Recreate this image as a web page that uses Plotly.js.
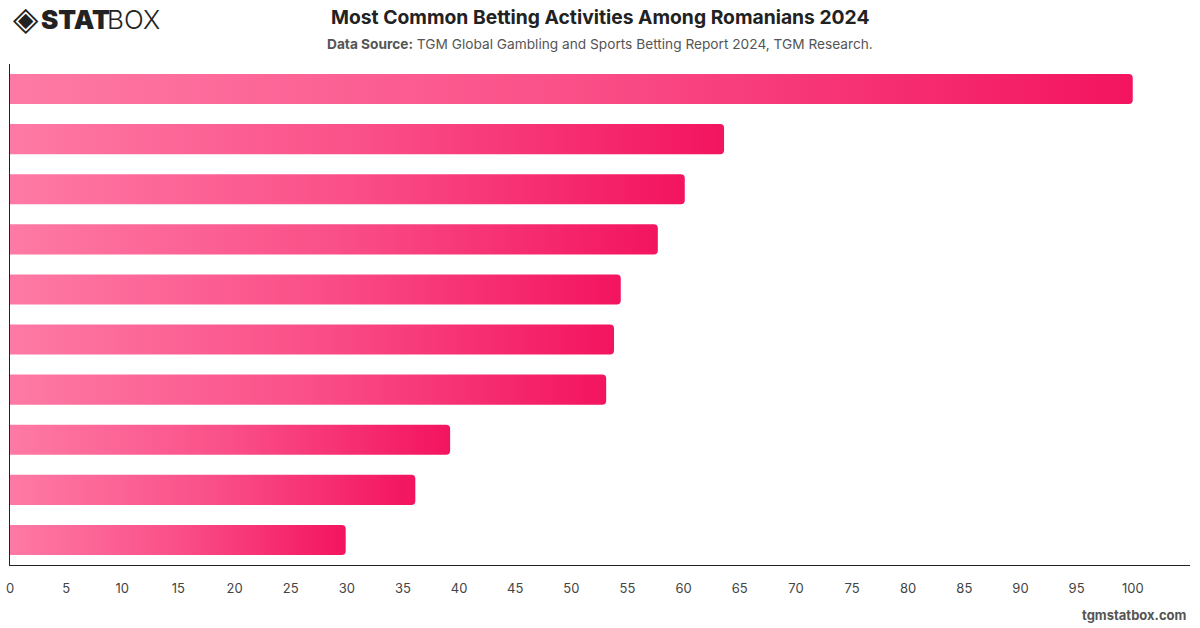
<!DOCTYPE html>
<html>
<head>
<meta charset="utf-8">
<script src="https://cdn.plot.ly/plotly-3.0.1.min.js"></script>
<style>
html,body{margin:0;padding:0;background:#fff;}
#chart{width:1200px;height:628px;}
</style>
</head>
<body>
<div id="chart"></div>
<script>
// Data (category labels are not shown in the chart)
const categories = ["Activity 1","Activity 2","Activity 3","Activity 4","Activity 5","Activity 6","Activity 7","Activity 8","Activity 9","Activity 10"];
const values = [100, 63.6, 60.1, 57.7, 54.4, 53.8, 53.1, 39.2, 36.1, 29.9];
const xTicks = [0,5,10,15,20,25,30,35,40,45,50,55,60,65,70,75,80,85,90,95,100];

const trace = {
  type: 'bar',
  orientation: 'h',
  y: categories,
  x: values,
  marker: {color: '#f94a85', line: {width: 0}},
  hoverinfo: 'x+y'
};

const layout = {
  width: 1200, height: 628,
  margin: {l: 10, r: 10, t: 64, b: 63, pad: 0},
  paper_bgcolor: '#fff', plot_bgcolor: '#fff',
  font: {family: 'Inter, "Open Sans", sans-serif', color: '#333'},
  bargap: 0.4,
  barcornerradius: 4,
  showlegend: false,
  xaxis: {
    range: [0, 105.1],
    tickvals: xTicks,
    ticktext: xTicks.map(String),
    showgrid: false, zeroline: false,
    showline: true, linecolor: '#222', linewidth: 1.2,
    ticks: '', ticklabelstandoff: 11,
    tickfont: {size: 13, color: '#444', family: 'Inter, sans-serif'},
    fixedrange: true
  },
  yaxis: {
    autorange: 'reversed',
    showticklabels: false,
    showgrid: false, zeroline: false,
    showline: true, linecolor: '#222', linewidth: 1.2,
    ticks: '', fixedrange: true
  },
  annotations: [
    {xref:'paper', yref:'paper', x:0.5, y:1, xanchor:'center', yanchor:'bottom',
     text:'<b>Most Common Betting Activities Among Romanians 2024</b>',
     showarrow:false, font:{size:19.3, color:'#222', family:'Inter, sans-serif'}, yshift:33},
    {xref:'paper', yref:'paper', x:0.5, y:1, xanchor:'center', yanchor:'bottom',
     text:'<b>Data Source:</b> TGM Global Gambling and Sports Betting Report 2024, TGM Research.',
     showarrow:false, font:{size:13.7, color:'#555', family:'Inter, sans-serif'}, yshift:10},
    {xref:'paper', yref:'paper', x:0, y:1, xanchor:'left', yanchor:'bottom',
     text:'◈', showarrow:false, font:{size:33, color:'#222', family:'DejaVu Sans'}, yshift:24, xshift:1},
    {xref:'paper', yref:'paper', x:0, y:1, xanchor:'left', yanchor:'bottom',
     text:'STAT', showarrow:false, font:{size:26, color:'#222', family:'Inter, sans-serif', weight:900}, yshift:27, xshift:29},
    {xref:'paper', yref:'paper', x:0, y:1, xanchor:'left', yanchor:'bottom',
     text:'BOX', showarrow:false, font:{size:26, color:'#222', family:'Inter, sans-serif', weight:300}, yshift:27, xshift:95},
    {xref:'paper', yref:'paper', x:1, y:0, xanchor:'right', yanchor:'top',
     text:'<b>tgmstatbox.com</b>', showarrow:false, font:{size:13, color:'#555', family:'Inter, sans-serif'}, yshift:-40, xshift:-1}
  ]
};

const gd = document.getElementById('chart');

function applyGradient() {
  const svg = gd.querySelector('svg.main-svg');
  if (!svg) return;
  let defs = svg.querySelector('defs');
  if (!defs) { defs = document.createElementNS('http://www.w3.org/2000/svg','defs'); svg.insertBefore(defs, svg.firstChild); }
  if (!svg.querySelector('#barGrad')) {
    const lg = document.createElementNS('http://www.w3.org/2000/svg','linearGradient');
    lg.setAttribute('id','barGrad');
    lg.setAttribute('x1','0'); lg.setAttribute('y1','0'); lg.setAttribute('x2','1'); lg.setAttribute('y2','0');
    [['0','#fe7aa5'],['0.5','#fa4f88'],['1','#f3145f']].forEach(([o,c]) => {
      const s = document.createElementNS('http://www.w3.org/2000/svg','stop');
      s.setAttribute('offset', o); s.setAttribute('stop-color', c);
      lg.appendChild(s);
    });
    defs.appendChild(lg);
  }
  gd.querySelectorAll('.barlayer .point path').forEach(p => { p.style.fill = 'url(#barGrad)'; });
}

Plotly.newPlot(gd, [trace], layout, {displayModeBar: false, staticPlot: true}).then(applyGradient);
gd.on && gd.on('plotly_afterplot', applyGradient);
</script>
</body>
</html>
